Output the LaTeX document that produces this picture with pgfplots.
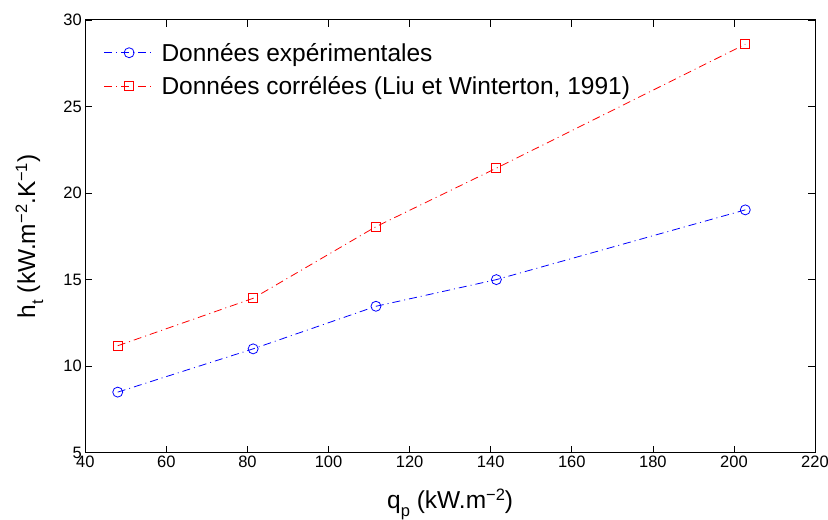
\documentclass[border=0pt]{standalone}
\usepackage{fontspec}
\setmainfont{Liberation Sans}
\usepackage{pgfplots}
\pgfplotsset{compat=1.18}
\definecolor{mblue}{RGB}{0,0,255}
\definecolor{mred}{RGB}{255,0,0}
\newcommand\msub[1]{\raisebox{-8pt}{\fontsize{16.5}{19}\selectfont #1}}
\newcommand\msup[1]{\raisebox{8pt}{\fontsize{16.5}{19}\selectfont #1}}
\begin{document}
\begin{tikzpicture}
\begin{axis}[
  name=ax,
  scale only axis,
  width=729.7pt, height=432.7pt,
  xmin=40, xmax=220, ymin=5, ymax=30,
  xtick={40,60,...,220}, ytick={5,10,...,30},
  tick align=inside, major tick length=7pt,
  axis line style={line width=1pt},
  every tick/.style={black, line width=0.6pt},
  tick label style={font=\fontsize{16.5}{19}\selectfont},
  /pgf/number format/assume math mode=true,
  xlabel={q\msub{p} (kW.m\msup{−2})},
  ylabel={h\msub{t} (kW.m\msup{−2}.K\msup{−1})},
  label style={font=\fontsize{24.5}{29}\selectfont},
  xlabel style={at={(axis description cs:0.5,-0.1294)}, anchor=base},
  ylabel style={at={(axis description cs:-0.0689,0.5)}, anchor=base, rotate=0},
  legend cell align=left,
  legend style={draw=none, fill=none, at={(axis description cs:0.025,0.952)}, anchor=north west,
    font=\fontsize{24.5}{29}\selectfont, inner sep=0pt, row sep=10pt,
    /tikz/every odd column/.append style={column sep=5pt}},
  legend image code/.code={\draw[mark repeat=2,mark phase=2,#1] plot coordinates {(0pt,0pt)(25pt,0pt)(50pt,0pt)};},
]
\addplot[mblue, line width=0.8pt, dash pattern=on 8pt off 4pt on 1pt off 4pt, mark=o, mark size=5pt, mark options={solid, line width=0.8pt}]
  coordinates {(48.0,8.5) (81.4,11.0) (111.7,13.46) (141.4,15.0) (202.8,19.03)};
\addlegendentry{Données expérimentales}
\addplot[mred, line width=0.8pt, dash pattern=on 8pt off 4pt on 1pt off 4pt, mark=square, mark size=4.5pt, mark options={solid, line width=0.8pt}]
  coordinates {(48.0,11.18) (81.4,13.92) (111.7,18.06) (141.4,21.44) (202.8,28.6)};
\addlegendentry{Données corrélées (Liu et Winterton, 1991)}
\end{axis}
\pgfresetboundingbox
\path ([xshift=-85.3pt,yshift=-66.3pt]ax.south west) rectangle ([xshift=13pt,yshift=20pt]ax.north east);
\end{tikzpicture}
\end{document}
